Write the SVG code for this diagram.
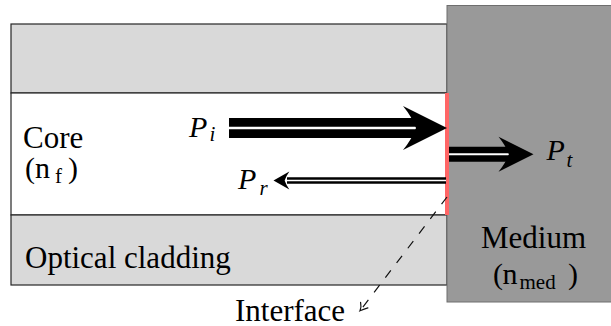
<svg xmlns="http://www.w3.org/2000/svg" width="611" height="326" viewBox="0 0 611 326">
  <defs>
    <path id="head" d="M0,0 L-44,-22 Q-35,-11 -31,0 Q-35,11 -44,22 Z" fill="#000"/>
  </defs>

  <g id="top-cladding">
    <rect x="11" y="24" width="436" height="69" fill="#d9d9d9" stroke="#262626" stroke-width="1.2"/>
  </g>

  <g id="core">
    <rect x="11" y="93" width="436" height="122" fill="#fff" stroke="#262626" stroke-width="1.2"/>
    <text x="23" y="147.5" font-family="Liberation Serif" font-size="31">Core</text>
    <text x="25" y="178" font-family="Liberation Serif" font-size="30">(</text>
    <text x="35" y="178" font-family="Liberation Serif" font-size="30">n</text>
    <text x="55" y="182.5" font-family="Liberation Serif" font-size="21">f</text>
    <text x="68" y="178" font-family="Liberation Serif" font-size="30">)</text>
  </g>

  <g id="bottom-cladding">
    <rect x="11" y="215" width="436" height="70" fill="#d9d9d9" stroke="#262626" stroke-width="1.2"/>
    <text x="25" y="268" font-family="Liberation Serif" font-size="31">Optical cladding</text>
  </g>

  <g id="medium">
    <rect x="447" y="5.5" width="170" height="296.5" fill="#999" stroke="#6e6e6e" stroke-width="1"/>
    <text x="481" y="248" font-family="Liberation Serif" font-size="31">Medium</text>
    <text x="493" y="283.5" font-family="Liberation Serif" font-size="30">(</text>
    <text x="502.5" y="283.5" font-family="Liberation Serif" font-size="30">n</text>
    <text x="519.5" y="288.5" font-family="Liberation Serif" font-size="21">med</text>
    <text x="568" y="283.5" font-family="Liberation Serif" font-size="30">)</text>
  </g>

  <g id="interface">
    <line x1="447" y1="93" x2="447" y2="215" stroke="#ff6666" stroke-width="4"/>
    <text x="235" y="321" font-family="Liberation Serif" font-size="31">Interface</text>
  </g>

  <g id="connectors">
    <g id="arrow-pi">
      <line x1="229" y1="128" x2="418" y2="128" stroke="#000" stroke-width="20"/>
      <line x1="229" y1="128" x2="418" y2="128" stroke="#fff" stroke-width="2.5"/>
      <use href="#head" transform="translate(447,128)"/>
      <text x="189" y="136.5" font-family="Liberation Serif" font-size="30" font-style="italic">P</text>
      <text x="209.5" y="141" font-family="Liberation Serif" font-size="21" font-style="italic">i</text>
    </g>
    <g id="arrow-pt">
      <line x1="449" y1="154.2" x2="512" y2="154.2" stroke="#000" stroke-width="15"/>
      <line x1="449" y1="154.2" x2="512" y2="154.2" stroke="#fff" stroke-width="2"/>
      <use href="#head" transform="translate(533.5,154.2) scale(0.795)"/>
      <text x="546.5" y="160" font-family="Liberation Serif" font-size="30" font-style="italic">P</text>
      <text x="566.5" y="166.5" font-family="Liberation Serif" font-size="21" font-style="italic">t</text>
    </g>
    <g id="arrow-pr">
      <line x1="446" y1="180.5" x2="287" y2="180.5" stroke="#000" stroke-width="6.5"/>
      <line x1="446" y1="180.5" x2="287" y2="180.5" stroke="#fff" stroke-width="1.5"/>
      <use href="#head" transform="translate(273.5,180.5) scale(-0.36,0.41)"/>
      <text x="238" y="188.5" font-family="Liberation Serif" font-size="30" font-style="italic">P</text>
      <text x="259.5" y="195" font-family="Liberation Serif" font-size="21" font-style="italic">r</text>
    </g>
    <g id="arrow-interface" fill="none" stroke="#111" stroke-width="1.2">
      <line x1="447" y1="197" x2="361" y2="309.5" stroke-dasharray="9 9.5"/>
      <path d="M360.6,302.4 Q361.6,307.5 360,310.7 Q364.5,308.8 367.9,307.8" stroke-linecap="round"/>
    </g>
  </g>
</svg>
